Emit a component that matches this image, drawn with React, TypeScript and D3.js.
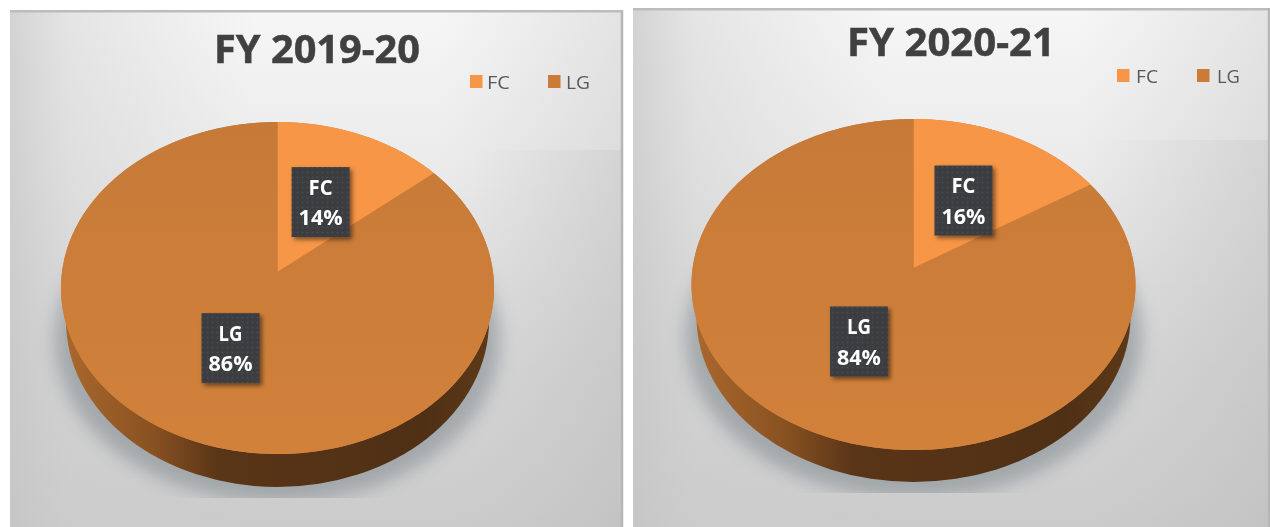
import React from "react";
import * as d3 from "d3";

const categories = ["FC", "LG"];
const titles = ["FY 2019-20", "FY 2020-21"];
const valuesA = [14, 86];
const valuesB = [16, 84];
const colors = ["#f79646", "#cb7b38"];

type Cfg = {
  id: string; title: string; values: number[];
  px: number; py: number; pw: number; ph: number;
  cx: number; apexY: number; rx: number; top: number; bottom: number; base: number;
  tx: number; tw: number; tb: number;
  lg: { sx: number; tx: number; tw: number }[]; ly: number; artY: number; artX: number;
};

const charts: Cfg[] = [
  { id: "a", title: titles[0], values: valuesA, px: 10, py: 10, pw: 613, ph: 517,
    cx: 277.5, apexY: 272, rx: 216.5, top: 122, bottom: 454, base: 487,
    tx: 214, tw: 206, tb: 63,
    lg: [{ sx: 470, tx: 487, tw: 23 }, { sx: 548, tx: 566, tw: 24 }], ly: 75, artY: 150, artX: 470 },
  { id: "b", title: titles[1], values: valuesB, px: 633, py: 8, pw: 637, ph: 519,
    cx: 913.5, apexY: 268, rx: 222, top: 119, bottom: 450, base: 482,
    tx: 847, tw: 208, tb: 56,
    lg: [{ sx: 1117, tx: 1136, tw: 22 }, { sx: 1197, tx: 1217, tw: 23 }], ly: 69, artY: 140, artX: 1085 },
];

function Pie({ c }: { c: Cfg }) {
  const up = c.apexY - c.top;
  const down = c.bottom - c.apexY;
  const ratio = down / up;
  const k = (ratio - 1) / (ratio + 1);
  const Q = up * (1 + k);
  const R = c.rx * Math.sqrt(1 - k * k);
  const project = (a: number, t = 1): [number, number] => {
    const d = 1 + k * t * Math.cos(a);
    return [c.cx + (R * t * Math.sin(a)) / d, c.apexY - (Q * t * Math.cos(a)) / d];
  };
  const arcs = d3.pie<number>().sort(null)(c.values);
  const line = d3.line();
  const slice = (s: number, e: number) => {
    const n = Math.ceil((e - s) * 60);
    const pts = d3.range(n + 1).map((i) => project(s + ((e - s) * i) / n));
    return line([[c.cx, c.apexY], ...pts])! + "Z";
  };
  const full = d3.range(241).map((i) => project((i / 240) * 2 * Math.PI));
  const midY = (c.top + c.bottom) / 2;
  const ry = (c.bottom - c.top) / 2;
  const baseShift = c.base - c.bottom;
  const fullLine = line(full)! + "Z";
  const baseRx = c.rx - 5;

  return (
    <g>
      <defs>
        <linearGradient id={`bg1${c.id}`} x1="0" y1="0" x2="0" y2="1">
          <stop offset="0" stopColor="#f6f6f6" />
          <stop offset="0.3" stopColor="#ebebec" />
          <stop offset="0.7" stopColor="#d6d6d6" />
          <stop offset="1" stopColor="#cbcbcb" />
        </linearGradient>
        <linearGradient id={`bg2${c.id}`} x1="0" y1="0" x2="1" y2="0">
          <stop offset="0" stopColor="#c4c4c4" stopOpacity="0.7" />
          <stop offset="0.1" stopColor="#cccccc" stopOpacity="0.4" />
          <stop offset="0.4" stopColor="#d0d0d0" stopOpacity="0" />
          <stop offset="0.7" stopColor="#c0c0c0" stopOpacity="0" />
          <stop offset="1" stopColor="#b8b8b8" stopOpacity="0.3" />
        </linearGradient>
        <linearGradient id={`art${c.id}`} x1="0" y1="0" x2="1" y2="0">
          <stop offset="0" stopColor="#c8c8c8" stopOpacity="0" />
          <stop offset="1" stopColor="#c0c0c0" stopOpacity="0.3" />
        </linearGradient>
        <linearGradient id={`side${c.id}`} x1="0" y1="0" x2="1" y2="0">
          <stop offset="0" stopColor="#a9672c" />
          <stop offset="0.2" stopColor="#8a5222" />
          <stop offset="0.36" stopColor="#5a3517" />
          <stop offset="0.85" stopColor="#4f3015" />
          <stop offset="1" stopColor="#5d3918" />
        </linearGradient>
        <linearGradient id={`top${c.id}`} x1="0" y1="0" x2="0" y2="1">
          <stop offset="0" stopColor="#c77a38" />
          <stop offset="1" stopColor="#d1813a" />
        </linearGradient>
        <filter id={`blur${c.id}`} x="-20%" y="-20%" width="140%" height="140%">
          <feGaussianBlur stdDeviation="9" />
        </filter>
        <filter id={`soft${c.id}`} x="-10%" y="-20%" width="120%" height="140%">
          <feGaussianBlur stdDeviation="0.35" />
        </filter>
        <filter id={`lblShadow${c.id}`} x="-30%" y="-30%" width="170%" height="170%">
          <feDropShadow dx="2.5" dy="2.5" stdDeviation="2.2" floodColor="#000" floodOpacity="0.5" />
        </filter>
        <pattern id={`dots${c.id}`} width="5" height="5" patternUnits="userSpaceOnUse">
          <rect width="5" height="5" fill="#3b3d41" />
          <circle cx="2.5" cy="2.5" r="1" fill="#484b50" />
        </pattern>
        <clipPath id={`clip${c.id}`}>
          <rect x={c.px} y={c.py} width={c.pw} height={c.base + 11 - c.py} />
        </clipPath>
      </defs>

      <rect x={c.px} y={c.py} width={c.pw} height={c.ph} fill={`url(#bg1${c.id})`} />
      <rect x={c.px} y={c.py} width={c.pw} height={c.ph} fill={`url(#bg2${c.id})`} />
      <rect x={c.artX} y={c.artY} width={c.px + c.pw - c.artX} height={c.py + c.ph - c.artY} fill={`url(#art${c.id})`} />
      <line x1={c.px} x2={c.px + c.pw} y1={c.py + 1.2} y2={c.py + 1.2} stroke="#bcbcbc" strokeWidth="2.5" />
      <line x1={c.px + c.pw - 1} x2={c.px + c.pw - 1} y1={c.py} y2={c.py + c.ph} stroke="#b6b6b6" strokeWidth="2.5" />

      <g clipPath={`url(#clip${c.id})`}>
        <ellipse cx={c.cx} cy={midY + 52} rx={c.rx + 6} ry={ry - 4} fill="#838c93" opacity="0.6" filter={`url(#blur${c.id})`} />
      </g>

      <ellipse cx={c.cx} cy={midY + baseShift} rx={baseRx} ry={ry} fill={`url(#side${c.id})`} />
      <rect x={c.cx - baseRx} y={midY} width={baseRx * 2} height={baseShift} fill={`url(#side${c.id})`} />
      <path d={fullLine} fill={`url(#top${c.id})`} />

      {arcs.map((a, i) => (
        <path key={i} d={slice(a.startAngle, a.endAngle)} fill={i === 0 ? colors[0] : `url(#top${c.id})`} />
      ))}

      {arcs.map((a, i) => {
        const [lx, ly] = project((a.startAngle + a.endAngle) / 2, 0.49);
        return (
          <g key={i}>
            <rect x={lx - 29} y={ly - 35} width={58} height={70} fill={`url(#dots${c.id})`} filter={`url(#lblShadow${c.id})`} />
            <g filter={`url(#soft${c.id})`}>
              <text x={lx} y={ly - 7.5} textAnchor="middle" fontFamily="'Open Sans'" fontWeight="700" fontSize="21" fill="#fff"
                textLength={24} lengthAdjust="spacingAndGlyphs">{categories[i]}</text>
              <text x={lx} y={ly + 23} textAnchor="middle" fontFamily="'Open Sans'" fontWeight="700" fontSize="21" fill="#fff"
                textLength={44} lengthAdjust="spacingAndGlyphs">{c.values[i]}%</text>
            </g>
          </g>
        );
      })}

      <g filter={`url(#soft${c.id})`}>
        <text x={c.tx} y={c.tb} fontFamily="'Open Sans'" fontWeight="700" fontSize="39.5" fill="#404040" stroke="#404040" strokeWidth="0.5"
          textLength={c.tw} lengthAdjust="spacingAndGlyphs">{c.title}</text>
      </g>

      {categories.map((n, i) => (
        <g key={n}>
          <rect x={c.lg[i].sx} y={c.ly} width={12.5} height={13} fill={colors[i]} />
          <text x={c.lg[i].tx} y={c.ly + 13.5} fontFamily="'Open Sans'" fontSize="19" fill="#595959"
            textLength={c.lg[i].tw} lengthAdjust="spacingAndGlyphs" filter={`url(#soft${c.id})`}>{n}</text>
        </g>
      ))}
    </g>
  );
}

export default function App() {
  return (
    <svg width={1270} height={527} style={{ position: "fixed", left: 0, top: 0, display: "block" }}>
      <rect width={1270} height={527} fill="#fff" />
      {charts.map((c) => <Pie key={c.id} c={c} />)}
    </svg>
  );
}
